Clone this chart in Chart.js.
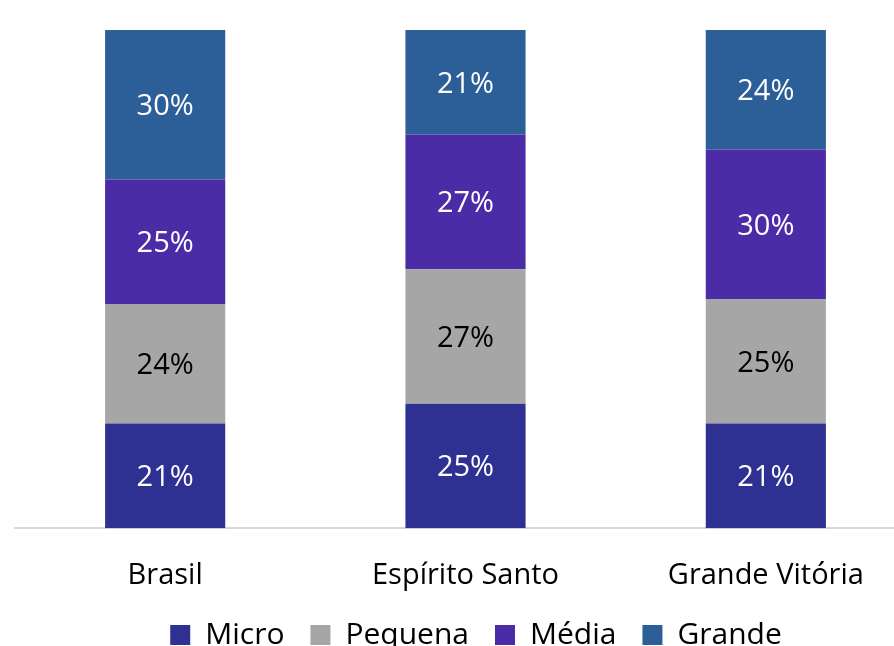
<!DOCTYPE html>
<html>
<head>
<meta charset="utf-8">
<script src="https://cdn.jsdelivr.net/npm/chart.js@4"></script>
<style>
  html, body { margin: 0; padding: 0; overflow: hidden; background: #fff; width: 894px; height: 646px; }
  canvas { display: block; }
</style>
</head>
<body>
<canvas id="c" width="937" height="660"></canvas>
<script>
const categories = ['Brasil', 'Espírito Santo', 'Grande Vitória'];
const seriesNames = ['Micro', 'Pequena', 'Média', 'Grande'];
const micro = [21, 25, 21];
const pequena = [24, 27, 25];
const media = [25, 27, 30];
const grande = [30, 21, 24];
const seriesColors = ['#2E3192', '#A6A6A6', '#4B2CA6', '#2C5E97'];
const labelColors = ['#FFFFFF', '#000000', '#FFFFFF', '#FFFFFF'];
const FONT = "'Open Sans', 'Noto Sans', sans-serif";

const seriesValues = [micro, pequena, media, grande];

const barLabels = {
  id: 'barLabels',
  afterDatasetsDraw(chart) {
    const ctx = chart.ctx;
    ctx.save();
    ctx.font = '29px ' + FONT;
    ctx.textAlign = 'center';
    ctx.textBaseline = 'middle';
    chart.data.datasets.forEach((ds, di) => {
      const meta = chart.getDatasetMeta(di);
      meta.data.forEach((el, i) => {
        const v = ds.data[i];
        ctx.fillStyle = labelColors[di];
        ctx.fillText(v + '%', el.x, (el.y + el.base) / 2 + 2);
      });
    });
    ctx.restore();
  }
};

new Chart(document.getElementById('c'), {
  type: 'bar',
  data: {
    labels: categories,
    datasets: seriesNames.map((n, i) => ({
      label: n,
      data: seriesValues[i],
      backgroundColor: seriesColors[i],
      borderWidth: 0,
      categoryPercentage: 1,
      barPercentage: 0.4
    }))
  },
  options: {
    responsive: false,
    animation: false,
    layout: { padding: { left: 15, top: 30, right: 0, bottom: 0 } },
    plugins: {
      tooltip: { enabled: false },
      legend: {
        position: 'bottom',
        labels: {
          boxWidth: 20,
          boxHeight: 20,
          padding: 26,
          color: '#000',
          font: { family: FONT, size: 30 }
        }
      }
    },
    scales: {
      x: {
        stacked: true,
        grid: { display: false, drawTicks: false },
        border: { display: true, color: '#D9D9D9', width: 2 },
        ticks: { color: '#000', padding: 30, font: { family: FONT, size: 29 } },
        afterFit(s) { s.height -= 29; }
      },
      y: {
        stacked: true,
        position: 'right',
        min: 0,
        max: 100,
        grid: { display: false, drawTicks: false },
        border: { display: false },
        ticks: { display: false },
        afterFit(s) { s.width = 21; }
      }
    }
  },
  plugins: [barLabels]
});
</script>
</body>
</html>
